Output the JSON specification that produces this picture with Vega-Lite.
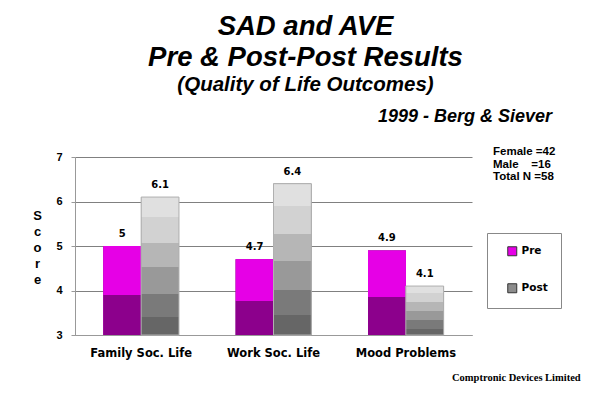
{
  "$schema": "https://vega.github.io/schema/vega-lite/v6.json",
  "width": 397,
  "height": 178,
  "autosize": {"type": "none"},
  "padding": {"left": 75, "top": 157, "right": 128, "bottom": 63},
  "background": "white",
  "config": {
    "view": {"stroke": null},
    "font": "Liberation Sans"
  },
  "title": {
    "text": ["SAD and AVE", "Pre & Post-Post Results"],
    "subtitle": "(Quality of Life Outcomes)",
    "font": "Liberation Sans",
    "fontSize": 27.5,
    "fontStyle": "italic",
    "fontWeight": "bold",
    "lineHeight": 31,
    "subtitleFont": "Liberation Sans",
    "subtitleFontSize": 20.5,
    "subtitleFontStyle": "italic",
    "subtitleFontWeight": "bold",
    "subtitleColor": "black",
    "subtitlePadding": 3,
    "color": "black",
    "anchor": "middle",
    "frame": "group",
    "dx": 32,
    "offset": 13
  },
  "layer": [
    {
      "data": {
        "values": [
          {"category": "Family Soc. Life", "series": "Pre", "score": 5},
          {"category": "Family Soc. Life", "series": "Post", "score": 6.1},
          {"category": "Work Soc. Life", "series": "Pre", "score": 4.7},
          {"category": "Work Soc. Life", "series": "Post", "score": 6.4},
          {"category": "Mood Problems", "series": "Pre", "score": 4.9},
          {"category": "Mood Problems", "series": "Post", "score": 4.1}
        ]
      },
      "encoding": {
        "x": {
          "field": "category",
          "type": "nominal",
          "sort": ["Family Soc. Life", "Work Soc. Life", "Mood Problems"],
          "scale": {"paddingInner": 0, "paddingOuter": 0},
          "axis": {
            "title": null,
            "labelAngle": 0,
            "labelFont": "DejaVu Sans",
            "labelFontSize": 11.5,
            "labelFontWeight": "bold",
            "labelColor": "black",
            "labelPadding": 12,
            "ticks": false,
            "domainColor": "#999999",
            "grid": false
          }
        },
        "xOffset": {
          "field": "series",
          "type": "nominal",
          "sort": ["Pre", "Post"],
          "scale": {"paddingInner": 0, "paddingOuter": 0.75}
        }
      },
      "layer": [
        {
          "mark": {"type": "bar", "color": "black", "xOffset": 2},
          "encoding": {
            "y": {"field": "score", "type": "quantitative"},
            "y2": {"datum": 3}
          }
        },
        {
          "mark": {"type": "bar"},
          "encoding": {
            "y": {
              "field": "score",
              "type": "quantitative",
              "scale": {"domain": [3, 7], "zero": false, "nice": false},
              "axis": {
                "values": [3, 4, 5, 6, 7],
                "title": ["S", "c", "o", "r", "e"],
                "titleAngle": 0,
                "titleAlign": "center",
                "titleBaseline": "top",
                "titleX": -38,
                "titleY": 52,
                "titleLineHeight": 16,
                "titleFont": "Liberation Sans",
                "titleFontSize": 13,
                "titleFontWeight": "bold",
                "titleColor": "black",
                "labelFont": "Liberation Sans",
                "labelFontSize": 11,
                "labelFontWeight": "bold",
                "labelColor": "black",
                "labelPadding": 9,
                "tickSize": 4,
                "tickColor": "#999999",
                "domainColor": "#999999",
                "grid": true,
                "gridColor": "#808080",
                "gridOpacity": 1
              }
            },
            "y2": {"datum": 3},
            "color": {
              "field": "series",
              "type": "nominal",
              "sort": ["Pre", "Post"],
              "scale": {"domain": ["Pre", "Post"], "range": ["#e600e6", "#8c8c8c"]},
              "legend": {
                "title": null,
                "orient": "none",
                "legendX": 412,
                "legendY": 76,
                "padding": 13,
                "symbolOffset": 7,
                "rowPadding": 23,
                "symbolType": "square",
                "symbolSize": 81,
                "symbolStrokeColor": "#333333",
                "symbolStrokeWidth": 1,
                "labelFont": "DejaVu Sans",
                "labelFontSize": 10.5,
                "labelFontWeight": "bold",
                "labelColor": "black",
                "labelOffset": 4,
                "strokeColor": "#888888",
                "fillColor": "white"
              }
            }
          }
        },
        {
          "transform": [{"filter": "datum.series === 'Pre'"}],
          "mark": {
            "type": "bar",
            "color": {
              "gradient": "linear",
              "x1": 0, "y1": 1, "x2": 0, "y2": 0,
              "stops": [
                {"offset": 0, "color": "#8c008c"},
                {"offset": 0.45, "color": "#8c008c"},
                {"offset": 0.45, "color": "#e600e6"},
                {"offset": 1, "color": "#e600e6"}
              ]
            }
          },
          "encoding": {
            "y": {"field": "score", "type": "quantitative"},
            "y2": {"datum": 3}
          }
        },
        {
          "transform": [{"filter": "datum.series === 'Post'"}],
          "mark": {
            "type": "bar",
            "stroke": "#b0b0b0",
            "strokeWidth": 1,
            "color": {
              "gradient": "linear",
              "x1": 0, "y1": 1, "x2": 0, "y2": 0,
              "stops": [
                {"offset": 0, "color": "#666666"},
                {"offset": 0.13, "color": "#666666"},
                {"offset": 0.13, "color": "#7a7a7a"},
                {"offset": 0.30, "color": "#7a7a7a"},
                {"offset": 0.30, "color": "#999999"},
                {"offset": 0.49, "color": "#999999"},
                {"offset": 0.49, "color": "#b6b6b6"},
                {"offset": 0.67, "color": "#b6b6b6"},
                {"offset": 0.67, "color": "#d2d2d2"},
                {"offset": 0.855, "color": "#d2d2d2"},
                {"offset": 0.855, "color": "#e0e0e0"},
                {"offset": 1, "color": "#e0e0e0"}
              ]
            }
          },
          "encoding": {
            "y": {"field": "score", "type": "quantitative"},
            "y2": {"datum": 3}
          }
        },
        {
          "mark": {
            "type": "text",
            "font": "DejaVu Sans",
            "fontSize": 10,
            "fontWeight": "bold",
            "color": "black",
            "baseline": "alphabetic",
            "dy": -9
          },
          "encoding": {
            "y": {"field": "score", "type": "quantitative"},
            "text": {"field": "score", "type": "quantitative", "format": ".2~f"}
          }
        }
      ]
    },
    {
      "data": {"values": [{"note": "1999 - Berg & Siever"}]},
      "mark": {
        "type": "text",
        "font": "Liberation Sans",
        "fontSize": 18,
        "fontStyle": "italic",
        "fontWeight": "bold",
        "color": "black",
        "align": "center",
        "baseline": "alphabetic"
      },
      "encoding": {
        "x": {"value": 390},
        "y": {"value": -35},
        "text": {"field": "note"}
      }
    },
    {
      "data": {"values": [{"note": ["Female =42", "Male\u00a0\u00a0\u00a0\u00a0=16", "Total N =58"]}]},
      "mark": {
        "type": "text",
        "font": "Liberation Sans",
        "fontSize": 11.5,
        "fontWeight": "bold",
        "color": "black",
        "align": "left",
        "baseline": "alphabetic",
        "lineHeight": 12.5
      },
      "encoding": {
        "x": {"value": 418},
        "y": {"value": -2},
        "text": {"field": "note"}
      }
    },
    {
      "data": {"values": [{"note": "Comptronic Devices Limited"}]},
      "mark": {
        "type": "text",
        "font": "Liberation Serif",
        "fontSize": 10.5,
        "fontWeight": "bold",
        "color": "black",
        "align": "left",
        "baseline": "alphabetic"
      },
      "encoding": {
        "x": {"value": 377},
        "y": {"value": 224},
        "text": {"field": "note"}
      }
    }
  ]
}
